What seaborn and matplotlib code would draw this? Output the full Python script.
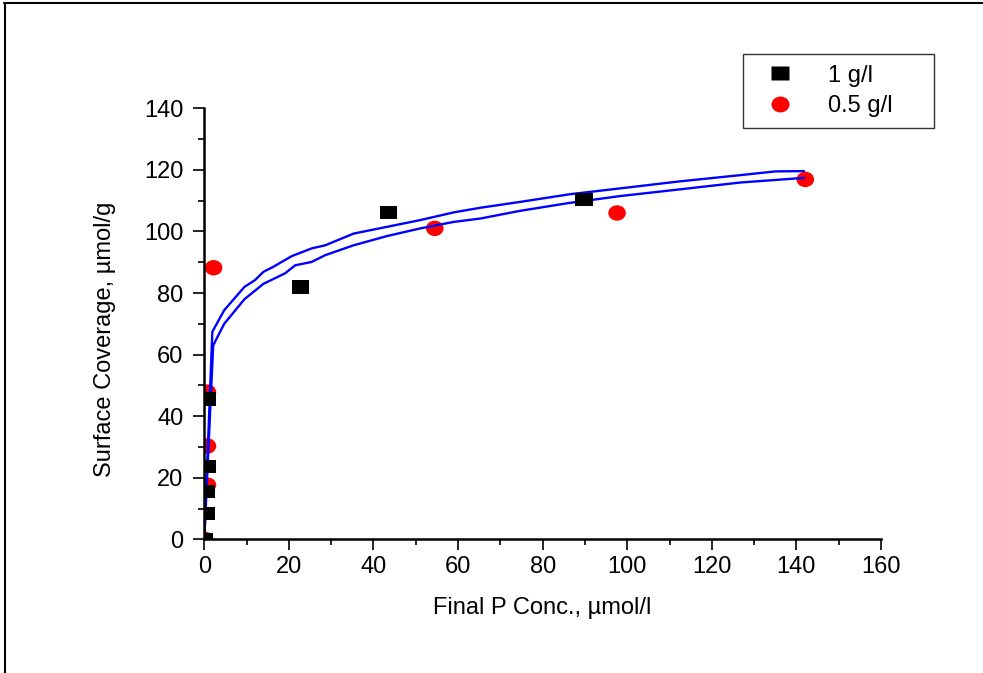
import matplotlib
matplotlib.use("Agg")
import matplotlib.pyplot as plt
from matplotlib.path import Path
from matplotlib.transforms import Affine2D
from matplotlib.lines import Line2D
from matplotlib.ticker import MultipleLocator
import pandas as pd
import seaborn as sns

# Measured adsorption data: final P concentration (µmol/l) vs surface coverage (µmol/g)
label_1g = "1 g/l"
label_05g = "0.5 g/l"

conc_1g = [0.0, 0.5, 0.5, 0.6, 0.8, 22.7, 43.6, 89.8]
cover_1g = [0.0, 8.4, 15.5, 23.6, 45.6, 82.0, 106.2, 110.4]

conc_05g = [0.1, 0.75, 0.75, 0.75, 2.2, 54.5, 97.6, 142.1]
cover_05g = [0.0, 17.6, 30.3, 47.8, 88.2, 101.0, 106.0, 116.9]

# Fitted isotherm curves
fit_a_x = [0, 1.9, 4.7, 9.5, 12, 14, 16.3, 20.7, 25.4, 28.6, 35.3, 43.2,
           51.1, 59, 65.3, 74.7, 86.5, 98.4, 112, 126.8, 135, 141.8]
fit_a_y = [0, 67.4, 74.4, 82, 84.2, 86.9, 88.5, 92, 94.5, 95.5, 99.3, 101.5,
           103.7, 106.2, 107.7, 109.6, 112.1, 114, 116.2, 118.3, 119.5, 119.6]

fit_b_x = [0, 2.1, 4.7, 9.5, 14, 19.1, 21.5, 25.4, 28.6, 35.3, 43.2, 51.1,
           59, 65.3, 74.7, 86.5, 98.4, 112, 126.8, 141.8]
fit_b_y = [0, 63, 70, 78, 83, 86.4, 89, 90.1, 92.3, 95.5, 98.5, 101,
           103.1, 104.2, 106.7, 109.3, 111.5, 113.6, 115.9, 117.4]

x_ticks = [0, 20, 40, 60, 80, 100, 120, 140, 160]
y_ticks = [0, 20, 40, 60, 80, 100, 120, 140]

x_title = "Final P Conc., µmol/l"
y_title = "Surface Coverage, µmol/g"

sns.set_style("ticks")
plt.rcParams["font.family"] = ["Liberation Sans", "DejaVu Sans"]
plt.rcParams["text.color"] = "black"
plt.rcParams["axes.labelcolor"] = "black"
plt.rcParams["xtick.color"] = "black"
plt.rcParams["ytick.color"] = "black"

# Slightly flattened marker shapes
sq_marker = Path([(-0.5, -0.38), (0.5, -0.38), (0.5, 0.38), (-0.5, 0.38), (-0.5, -0.38)],
                 [Path.MOVETO, Path.LINETO, Path.LINETO, Path.LINETO, Path.CLOSEPOLY])
circ_marker = Path.unit_circle().transformed(Affine2D().scale(1.0, 0.88))

W, H = 983, 673
fig = plt.figure(figsize=(W / 100, H / 100), dpi=100)
ax = fig.add_axes([204.3 / W, 1 - 539.3 / H, (881 - 204.3) / W, (539.3 - 108.3) / H])

df_1g = pd.DataFrame({"conc": conc_1g, "cover": cover_1g})
df_05g = pd.DataFrame({"conc": conc_05g, "cover": cover_05g})
df_a = pd.DataFrame({"conc": fit_a_x, "cover": fit_a_y})
df_b = pd.DataFrame({"conc": fit_b_x, "cover": fit_b_y})

sns.scatterplot(data=df_05g, x="conc", y="cover", ax=ax, marker=circ_marker,
                s=160, color="#ff0000", edgecolor="none", linewidth=0, zorder=2, legend=False)
for d in (df_a, df_b):
    sns.lineplot(data=d, x="conc", y="cover", ax=ax, estimator=None, sort=False,
                 color="#0000ff", linewidth=1.7, zorder=3, legend=False)
sns.scatterplot(data=df_1g, x="conc", y="cover", ax=ax, marker=sq_marker,
                s=160, color="black", edgecolor="none", linewidth=0, zorder=4, legend=False)

ax.set_xlim(0, 160)
ax.set_ylim(0, 140)
ax.set_xticks(x_ticks)
ax.set_yticks(y_ticks)
ax.yaxis.set_minor_locator(MultipleLocator(10))
ax.xaxis.set_minor_locator(MultipleLocator(10))
sns.despine(ax=ax)
for sp in ("left", "bottom"):
    ax.spines[sp].set_linewidth(1.8)
    ax.spines[sp].set_color("black")
    ax.spines[sp].set_zorder(5)
ax.tick_params(axis="both", which="major", direction="out", length=8, width=1.2,
               labelsize=17, color="black", labelcolor="black")
ax.tick_params(axis="y", which="major", pad=7)
ax.tick_params(axis="x", which="major", pad=4)
ax.tick_params(axis="both", which="minor", direction="out", length=4, width=1.2, color="black")

ax.set_xlabel(x_title, fontsize=17, color="black")
ax.set_ylabel(y_title, fontsize=17, color="black")
ax.xaxis.set_label_coords(0.5, -0.134)
ax.yaxis.set_label_coords(-0.13, 0.465)

handles = [
    Line2D([], [], linestyle="none", marker=sq_marker, markersize=13,
           markerfacecolor="black", markeredgecolor="none"),
    Line2D([], [], linestyle="none", marker=circ_marker, markersize=13,
           markerfacecolor="#ff0000", markeredgecolor="none"),
]
leg = fig.legend(handles, [label_1g, label_05g], loc="upper left",
                 bbox_to_anchor=(743 / W, 1 - 54 / H, (934 - 743) / W, 0),
                 mode="expand", fontsize=17, frameon=True,
                 fancybox=False, shadow=False, borderaxespad=0, handlelength=2.25,
                 handletextpad=0.9, borderpad=0.45, labelspacing=0.35)
leg.get_frame().set_edgecolor("black")
leg.get_frame().set_linewidth(1.0)
for t in leg.get_texts():
    t.set_color("black")

# Page frame lines along the top and left edges
fig.add_artist(Line2D([4 / W, 1], [1 - 3 / H, 1 - 3 / H], transform=fig.transFigure,
                      color="black", linewidth=1.5))
fig.add_artist(Line2D([5 / W, 5 / W], [0, 1 - 3 / H], transform=fig.transFigure,
                      color="black", linewidth=1.5))

fig.savefig("out.png", dpi=100)
